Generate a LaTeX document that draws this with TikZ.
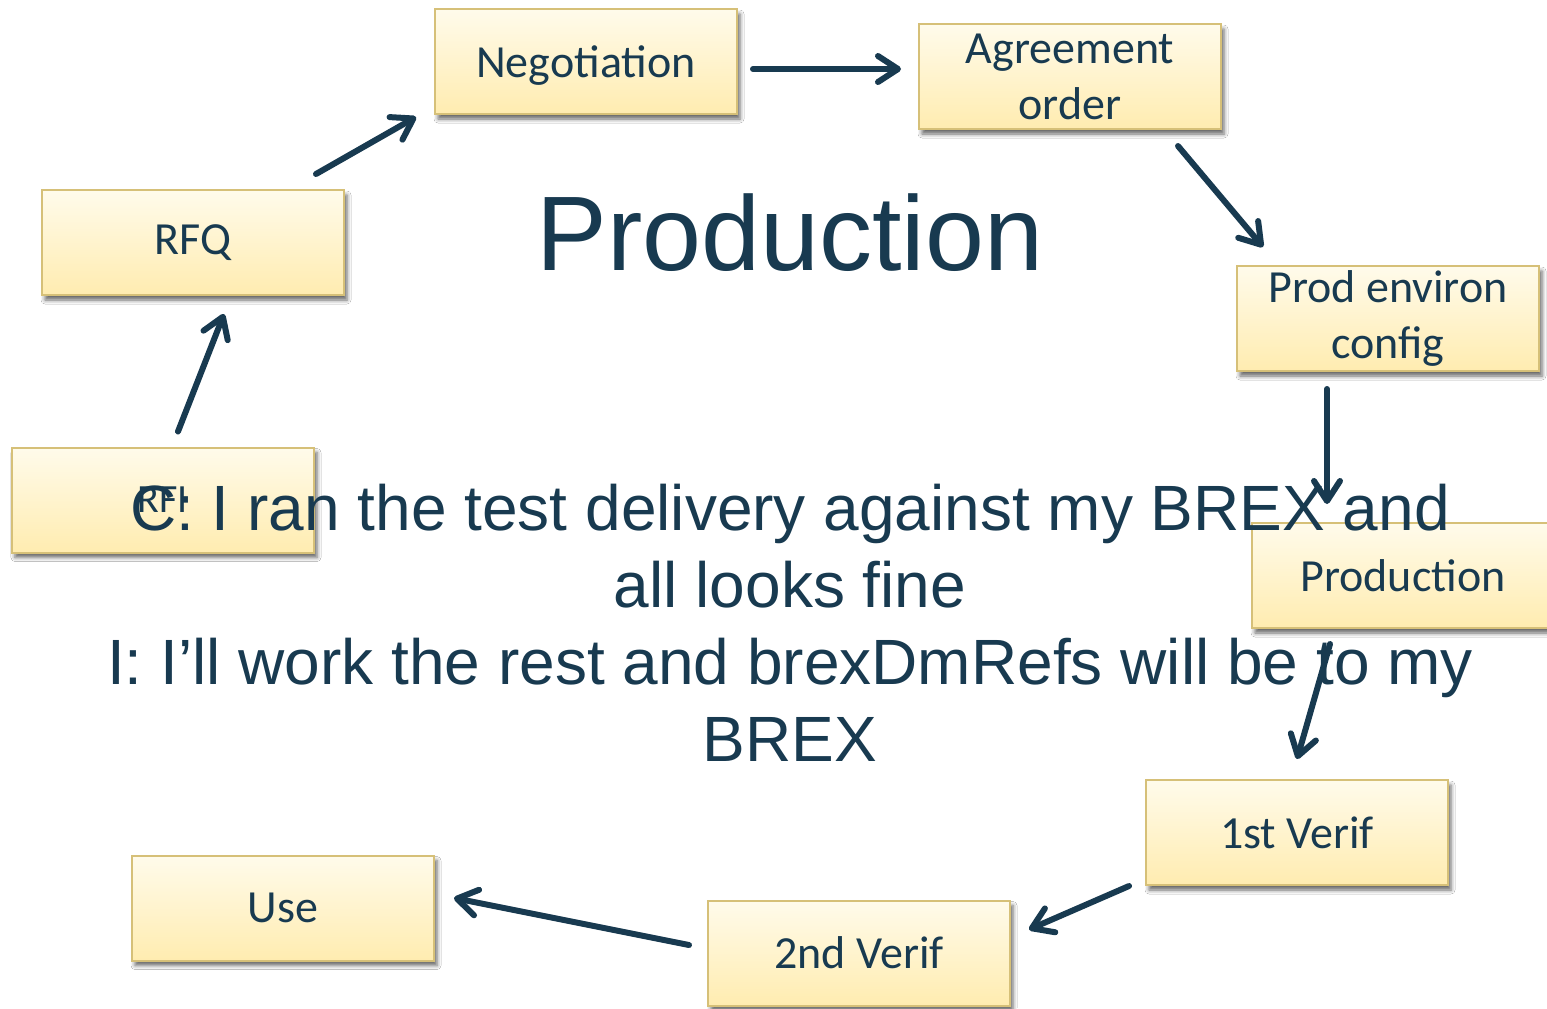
\documentclass[tikz,border=0pt]{standalone}
\usepackage{fontspec}
\newfontfamily\boxfont{Carlito}
\newfontfamily\bigfont{Liberation Sans}
\usetikzlibrary{arrows.meta,shadows.blur}
\definecolor{ink}{RGB}{24,58,80}
\definecolor{boxtop}{RGB}{255,251,235}
\definecolor{boxbot}{RGB}{255,236,176}
\definecolor{boxedge}{RGB}{214,192,120}

\begin{document}
\begin{tikzpicture}[x=0.5pt,y=-0.5pt,
  stepbox/.style={draw=boxedge, line width=1pt, top color=boxtop, bottom color=boxbot,
    minimum width=151pt, minimum height=52.5pt, inner sep=0pt, align=center, text=ink,
    font=\boxfont\fontsize{23pt}{28pt}\selectfont,
    blur shadow={shadow xshift=1.5pt, shadow yshift=-2.5pt, shadow blur radius=2pt, shadow opacity=60}},
  flow/.style={draw=ink, line width=3pt, line cap=round,
    -{Straight Barb[length=10pt,width=13pt,round]}}
]
% page
\fill[white] (0,0) rectangle (1547,1008);
\useasboundingbox (0,0) rectangle (1547,1008);

% process steps
\node[stepbox, text depth=0pt] (neg)  at (586,61.5)  {Negotiation};
\node[stepbox] (agr)  at (1070,76.5) {Agreement\\order};
\node[stepbox] (rfq)  at (193,242.5) {RFQ};
\node[stepbox] (env)  at (1388,318.5) {Prod environ\\config};
\node[stepbox, font=\boxfont\fontsize{20pt}{24pt}\selectfont] (rfi) at (163,500) {RFI};
\node[stepbox] (prod) at (1403,575.5) {Production};
\node[stepbox] (ver1) at (1297,832.5) {1st Verif};
\node[stepbox] (ver2) at (859,953)   {2nd Verif};
\node[stepbox] (use)  at (283,908)   {Use};

% title and dialogue
\node[text=ink, font=\bigfont\fontsize{53pt}{60pt}\selectfont, inner sep=0pt] (title) at (790,233) {Production};
\node[text=ink, font=\bigfont\fontsize{32pt}{38.5pt}\selectfont, inner sep=0pt, align=center] (talk) at (790,623)
  {C: I ran the test delivery against my BREX and\\all looks fine\\I: I’ll work the rest and brexDmRefs will be to my\\BREX};

% flow of the cycle
\draw[flow] ([shift={(15,-15)}]rfi.north) -- ([shift={(31,18)}]rfq.south);
\draw[flow] ([shift={(-29,-15)}]rfq.north east) -- ([shift={(-18,2)}]neg.south west);
\draw[flow] ([shift={(15,7.5)}]neg.east) -- ([shift={(-17,-7.5)}]agr.west);
\draw[flow] ([shift={(-44,16)}]agr.south east) -- ([shift={(27,-18)}]env.north west);
\draw[flow] ([shift={(-61,17)}]env.south) -- ([shift={(-76,-18)}]prod.north);
\draw[flow] ([shift={(-73,15)}]prod.south) -- ([shift={(0,-20)}]ver1.north);
\draw[flow] ([shift={(-16,0)}]ver1.south west) -- ([shift={(18,30)}]ver2.north east);
\draw[flow] ([shift={(-18,-8)}]ver2.west) -- ([shift={(19,-10)}]use.east);
\end{tikzpicture}
\end{document}
